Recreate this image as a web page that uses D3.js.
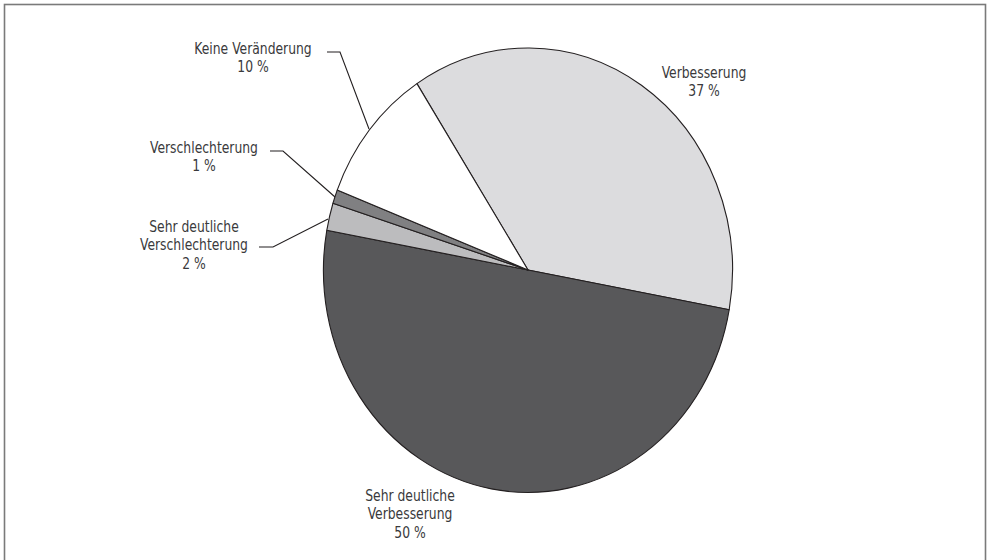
<!DOCTYPE html>
<html>
<head>
<meta charset="utf-8">
<script src="https://cdn.jsdelivr.net/npm/d3@7/dist/d3.min.js"></script>
<style>
  html, body { margin: 0; padding: 0; background: #fff; }
  svg { display: block; }
  text { font-family: "DejaVu Sans Condensed", "DejaVu Sans", sans-serif; }
</style>
</head>
<body>
<svg id="chart" width="988" height="560"></svg>
<script>
// Slices, clockwise from the upper-left edge of "Verbesserung"
const categories = [
  "Verbesserung",
  "Sehr deutliche Verbesserung",
  "Sehr deutliche Verschlechterung",
  "Verschlechterung",
  "Keine Veränderung"
];
const shares = [37, 50, 2, 1, 10];
const sliceColors = ["#dcdcde", "#58585a", "#bcbcbe", "#808082", "#ffffff"];

// Label lines per slice and where each label block sits
const labelLines = [
  ["Verbesserung", "37 %"],
  ["Sehr deutliche", "Verbesserung", "50 %"],
  ["Sehr deutliche", "Verschlechterung", "2 %"],
  ["Verschlechterung", "1 %"],
  ["Keine Veränderung", "10 %"]
];
const labelAnchor = [[704, 78], [410, 501], [194, 232], [204, 153], [253, 54]];
// Leader lines (elbow): label end -> elbow -> slice edge; null when none
const leaders = [
  null,
  null,
  [[259, 247], [273, 247], [328, 219]],
  [[270, 151], [283, 151], [335, 197]],
  [[327, 52], [340, 52], [369, 129]]
];

const W = 988, H = 560;
const cx = 528, cy = 270, rx = 204.5, ry = 222;
const lineH = 18.5;
const textSqueeze = 0.86;

const svg = d3.select("#chart");

// frame
svg.append("rect")
  .attr("x", 4.5).attr("y", 4.5)
  .attr("width", 981).attr("height", 620)
  .attr("fill", "none")
  .attr("stroke", "#7a7a7a")
  .attr("stroke-width", 1.6);

const data = categories.map((c, i) => ({ name: c, value: shares[i], i }));

const pie = d3.pie()
  .sort(null)
  .value(d => d.value)
  .startAngle(-32.9 * Math.PI / 180)
  .endAngle(-32.9 * Math.PI / 180 + 2 * Math.PI);

const arc = d3.arc().innerRadius(0).outerRadius(rx);

const g = svg.append("g")
  .attr("transform", `translate(${cx},${cy}) scale(1,${ry / rx})`);

g.selectAll("path")
  .data(pie(data))
  .join("path")
  .attr("d", arc)
  .attr("fill", d => sliceColors[d.data.i])
  .attr("stroke", "#231f20")
  .attr("stroke-width", 1.1)
  .attr("vector-effect", "non-scaling-stroke")
  .attr("stroke-linejoin", "round");

// leader lines
const line = d3.line();
svg.append("g").selectAll("path")
  .data(leaders.filter(d => d))
  .join("path")
  .attr("d", d => line(d))
  .attr("fill", "none")
  .attr("stroke", "#231f20")
  .attr("stroke-width", 1.1);

// labels, set in a narrowed face
const labels = svg.append("g");
labelLines.forEach((lines, i) => {
  const [x, y] = labelAnchor[i];
  const t = labels.append("g")
    .attr("transform", `translate(${x},${y}) scale(${textSqueeze},1)`)
    .append("text")
    .attr("text-anchor", "middle")
    .attr("font-size", 16)
    .attr("fill", "#3a3a3c");
  lines.forEach((s, k) => {
    t.append("tspan")
      .attr("x", 0)
      .attr("y", k * lineH)
      .text(s);
  });
});
</script>
</body>
</html>
